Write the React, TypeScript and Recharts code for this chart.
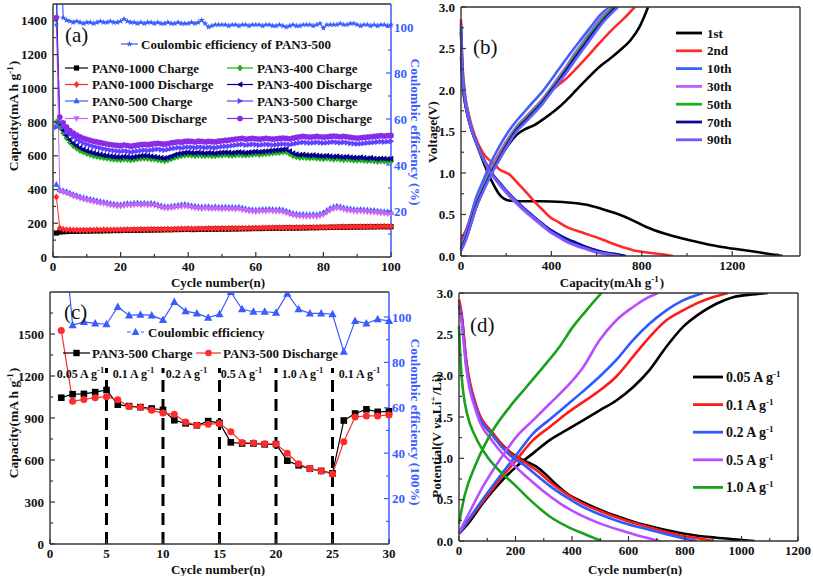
import React from 'react';
import { LineChart, Line, XAxis, YAxis, ReferenceLine } from 'recharts';

const FONT = '"Liberation Serif", "Times New Roman", serif';
const BLUE = '#3a5cff';
const AX = { stroke: '#333', strokeWidth: 1.4 };

// ---------- panel (a): cycling of the different samples ----------
const aCycle = Array.from({ length: 100 }, (_, i) => i + 1);

const a10C = [142, 148, 150, 151, 152, 152, 153, 153, 154, 154,
    154, 155, 155, 155, 156, 156, 156, 157, 157, 157,
    158, 158, 158, 159, 159, 159, 160, 160, 160, 161,
    161, 161, 162, 162, 162, 163, 163, 163, 164, 164,
    163, 163, 164, 164, 164, 165, 165, 165, 166, 166,
    166, 166, 167, 167, 167, 168, 168, 168, 169, 169,
    169, 169, 170, 170, 170, 171, 171, 171, 172, 172,
    172, 172, 173, 173, 173, 174, 174, 174, 175, 175,
    175, 176, 176, 176, 177, 177, 177, 178, 178, 178,
    178, 179, 179, 179, 179, 180, 180, 180, 180, 180];
const a10D = [356, 172, 165, 162, 161, 160, 160, 159, 160, 159,
    160, 160, 161, 160, 161, 161, 162, 161, 162, 162,
    162, 163, 162, 163, 163, 164, 163, 164, 164, 165,
    164, 165, 165, 166, 165, 166, 166, 167, 166, 167,
    167, 168, 167, 168, 168, 169, 168, 169, 169, 170,
    169, 170, 170, 171, 170, 171, 171, 172, 171, 172,
    172, 173, 172, 173, 173, 174, 173, 174, 174, 175,
    174, 175, 175, 176, 175, 176, 176, 177, 176, 177,
    177, 178, 177, 178, 178, 179, 178, 179, 179, 180,
    179, 180, 180, 181, 180, 181, 181, 182, 181, 182];
const a05C = [430, 398, 394, 388, 380, 372, 365, 358, 352, 347,
    343, 338, 334, 330, 326, 322, 318, 315, 312, 310,
    315, 318, 316, 319, 321, 318, 320, 317, 319, 316,
    310, 304, 300, 298, 301, 304, 307, 310, 312, 309,
    305, 301, 299, 297, 299, 298, 296, 298, 296, 295,
    297, 295, 296, 294, 296, 291, 287, 283, 281, 279,
    281, 283, 282, 284, 283, 281, 282, 279, 273, 266,
    259, 255, 253, 252, 251, 251, 252, 251, 255, 263,
    276, 289, 297, 301, 299, 293, 288, 286, 283, 281,
    283, 281, 279, 277, 276, 274, 271, 269, 267, 265];
const a05D = [1415, 390, 385, 378, 370, 362, 355, 348, 342, 337,
    333, 328, 324, 320, 316, 312, 308, 305, 302, 300,
    305, 308, 306, 309, 311, 308, 310, 307, 309, 306,
    300, 294, 290, 288, 291, 294, 297, 299, 301, 298,
    294, 290, 288, 286, 288, 287, 285, 287, 285, 284,
    286, 284, 285, 283, 285, 280, 276, 272, 270, 268,
    270, 272, 271, 273, 272, 270, 271, 268, 262, 255,
    248, 244, 242, 241, 240, 240, 241, 240, 244, 252,
    265, 278, 286, 290, 288, 282, 277, 275, 272, 270,
    272, 270, 268, 266, 265, 263, 260, 258, 256, 254];
const a34C = [800, 770, 735, 705, 680, 660, 645, 632, 622, 614,
    607, 601, 596, 592, 588, 585, 582, 580, 578, 577,
    580, 578, 575, 578, 581, 584, 586, 584, 581, 579,
    576, 573, 571, 575, 582, 590, 596, 600, 603, 605,
    603, 601, 604, 602, 600, 603, 601, 600, 603, 604,
    606, 604, 602, 605, 607, 605, 603, 606, 608, 610,
    608, 610, 612, 614, 616, 618, 620, 622, 624, 612,
    600, 594, 590, 592, 589, 587, 589, 586, 584, 583,
    585, 582, 580, 582, 579, 577, 579, 576, 574, 573,
    575, 572, 570, 572, 569, 567, 569, 568, 566, 567];
const a34D = [1560, 790, 752, 720, 695, 675, 660, 647, 637, 629,
    622, 616, 611, 607, 603, 600, 597, 595, 593, 592,
    595, 593, 590, 593, 596, 599, 601, 599, 596, 594,
    591, 588, 586, 590, 597, 605, 611, 615, 618, 620,
    618, 616, 619, 617, 615, 618, 616, 615, 618, 619,
    621, 619, 617, 620, 622, 620, 618, 621, 623, 625,
    623, 625, 627, 629, 631, 633, 635, 637, 639, 627,
    615, 609, 605, 607, 604, 602, 604, 601, 599, 598,
    600, 597, 595, 597, 594, 592, 594, 591, 589, 588,
    590, 587, 585, 587, 584, 582, 584, 583, 581, 582];
const a35C = [770, 800, 770, 745, 727, 710, 695, 684, 675, 668,
    661, 655, 650, 645, 641, 637, 633, 630, 628, 626,
    629, 626, 622, 625, 628, 631, 633, 631, 634, 637,
    639, 636, 634, 638, 642, 645, 648, 646, 650, 652,
    650, 648, 652, 650, 648, 651, 649, 648, 652, 654,
    656, 658, 661, 664, 666, 668, 664, 666, 668, 666,
    664, 666, 668, 666, 664, 666, 668, 670, 668, 666,
    670, 674, 678, 680, 678, 676, 678, 680, 678, 676,
    678, 680, 682, 680, 678, 680, 678, 674, 672, 670,
    672, 674, 676, 678, 680, 682, 684, 682, 684, 686];
const a35D = [1420, 830, 795, 770, 750, 735, 722, 712, 704, 698,
    692, 686, 682, 678, 674, 670, 667, 664, 662, 660,
    664, 661, 657, 660, 663, 666, 668, 666, 669, 672,
    674, 671, 669, 673, 677, 680, 683, 681, 685, 687,
    685, 683, 687, 685, 683, 686, 684, 683, 687, 689,
    691, 693, 696, 699, 701, 703, 699, 701, 703, 701,
    699, 701, 703, 701, 699, 701, 703, 705, 703, 701,
    705, 709, 713, 715, 713, 711, 713, 715, 713, 711,
    713, 715, 717, 715, 713, 715, 713, 709, 707, 705,
    707, 709, 711, 713, 715, 717, 719, 717, 719, 721];
const aCE = [101, 150, 104, 103, 102.5, 102, 102.5, 102, 101.5, 102,
    102, 101.5, 102, 102.5, 102, 102, 102.5, 102, 102, 102.5,
    103.5, 102.5, 102, 102, 101.5, 102, 101.5, 102, 102, 101.5,
    102, 101.5, 101.5, 102, 101.5, 101.5, 102, 101.5, 101.5, 101.5,
    102, 101.5, 102, 103, 101.5, 100, 100.5, 101, 101, 101,
    101, 100.5, 101, 101, 100.5, 101, 101, 100.5, 101, 101,
    101, 100.5, 101, 101, 100.5, 100.5, 101, 100.5, 100, 100.5,
    101, 100.5, 100.5, 101, 101, 101, 100.5, 101, 101.5, 99.5,
    101, 101, 101, 101, 101.5, 101, 101, 101.5, 101.5, 101,
    100.5, 101, 101, 100.5, 101, 100.5, 101, 101, 100.5, 101];

const aRows = aCycle.map((c, i) => ({
    c, p10c: a10C[i], p10d: a10D[i], p05c: a05C[i], p05d: a05D[i],
    p34c: a34C[i], p34d: a34D[i], p35c: a35C[i], p35d: a35D[i], ce: aCE[i],
}));

const aSpec = [
    { key: 'p10c', name: 'PAN0-1000 Charge', color: '#000000', shape: 'square' },
    { key: 'p10d', name: 'PAN0-1000 Discharge', color: '#ff2a2a', shape: 'diamond' },
    { key: 'p05c', name: 'PAN0-500 Charge', color: '#3060ff', shape: 'up' },
    { key: 'p05d', name: 'PAN0-500 Discharge', color: '#c865f5', shape: 'down' },
    { key: 'p34c', name: 'PAN3-400 Charge', color: '#1fae1f', shape: 'diamond' },
    { key: 'p34d', name: 'PAN3-400 Discharge', color: '#00008b', shape: 'left' },
    { key: 'p35c', name: 'PAN3-500 Charge', color: '#6040ff', shape: 'right' },
    { key: 'p35d', name: 'PAN3-500 Discharge', color: '#8a2be8', shape: 'circle' },
];

// ---------- panel (b): voltage profiles of PAN3-500 ----------
const b1Dis = [[0, 2.4], [8, 2.05], [25, 1.75], [50, 1.5], [80, 1.27], [110, 1.06], [140, 0.88], [165, 0.76], [190, 0.69], [220, 0.665], [260, 0.66], [350, 0.66], [450, 0.65], [550, 0.62], [620, 0.57], [700, 0.5], [760, 0.43], [820, 0.35], [900, 0.27], [980, 0.21], [1060, 0.16], [1130, 0.12], [1200, 0.09], [1280, 0.06], [1350, 0.03], [1400, 0.01], [1422, 0]];
const b1Chg = [[0, 0.1], [20, 0.2], [69, 0.6], [100, 0.8], [128, 0.96], [172, 1.18], [210, 1.34], [246, 1.46], [285, 1.53], [320, 1.57], [360, 1.64], [400, 1.72], [437, 1.8], [475, 1.9], [510, 2.0], [560, 2.14], [613, 2.28], [660, 2.38], [700, 2.47], [750, 2.6], [790, 2.76], [828, 3.0]];
const b2Dis = [[0, 2.85], [5, 2.4], [15, 2.02], [35, 1.7], [60, 1.46], [98, 1.24], [140, 1.12], [172, 1.04], [216, 0.98], [250, 0.88], [285, 0.78], [320, 0.67], [360, 0.56], [393, 0.47], [430, 0.41], [467, 0.35], [540, 0.28], [614, 0.21], [690, 0.13], [761, 0.07], [830, 0.04], [890, 0.02], [938, 0]];
const b2Chg = [[0, 0.2], [20, 0.3], [69, 0.68], [100, 0.88], [128, 1.03], [172, 1.25], [210, 1.42], [246, 1.56], [285, 1.67], [320, 1.77], [360, 1.88], [393, 1.97], [430, 2.06], [467, 2.14], [500, 2.23], [555, 2.39], [614, 2.57], [673, 2.74], [720, 2.86], [769, 3.0]];
const b10Dis = [[0, 2.8], [5, 2.35], [15, 1.98], [35, 1.66], [69, 1.36], [100, 1.17], [128, 1.02], [150, 0.93], [172, 0.86], [210, 0.74], [246, 0.64], [285, 0.55], [320, 0.47], [360, 0.38], [393, 0.31], [430, 0.25], [467, 0.19], [510, 0.14], [555, 0.09], [600, 0.05], [644, 0.03], [680, 0.01], [700, 0]];
const b10Chg = [[0, 0.14], [20, 0.27], [69, 0.72], [100, 0.92], [128, 1.1], [172, 1.33], [210, 1.5], [246, 1.63], [285, 1.75], [320, 1.86], [360, 1.98], [393, 2.1], [430, 2.24], [467, 2.38], [500, 2.5], [540, 2.64], [580, 2.78], [614, 2.9], [660, 3.0]];
const b30Dis = [[0, 2.78], [5, 2.3], [15, 1.95], [35, 1.64], [69, 1.35], [100, 1.16], [128, 1.01], [150, 0.93], [172, 0.85], [210, 0.73], [246, 0.63], [285, 0.53], [320, 0.45], [360, 0.36], [393, 0.29], [430, 0.23], [467, 0.17], [510, 0.12], [555, 0.08], [600, 0.04], [644, 0.02], [690, 0]];
const b30Chg = [[0, 0.12], [20, 0.23], [69, 0.66], [100, 0.85], [128, 1.01], [172, 1.23], [210, 1.41], [246, 1.56], [285, 1.67], [320, 1.77], [360, 1.89], [393, 2.01], [430, 2.15], [467, 2.29], [500, 2.43], [540, 2.58], [580, 2.73], [614, 2.86], [668, 3.0]];
const b50Dis = [[0, 2.75], [5, 2.28], [15, 1.93], [35, 1.63], [69, 1.35], [100, 1.16], [128, 1.02], [150, 0.94], [172, 0.87], [210, 0.75], [246, 0.65], [285, 0.55], [320, 0.47], [360, 0.38], [393, 0.31], [430, 0.25], [467, 0.2], [510, 0.15], [555, 0.1], [600, 0.06], [644, 0.04], [690, 0.02], [720, 0]];
const b50Chg = [[0, 0.1], [20, 0.21], [69, 0.64], [100, 0.83], [128, 0.99], [172, 1.21], [210, 1.39], [246, 1.54], [285, 1.65], [320, 1.75], [360, 1.87], [393, 1.99], [430, 2.12], [467, 2.26], [500, 2.4], [540, 2.55], [580, 2.7], [620, 2.84], [675, 3.0]];
const b70Dis = [[0, 2.7], [5, 2.25], [15, 1.92], [35, 1.63], [69, 1.36], [100, 1.17], [128, 1.03], [150, 0.95], [172, 0.88], [210, 0.76], [246, 0.66], [285, 0.56], [320, 0.48], [360, 0.39], [393, 0.32], [430, 0.26], [467, 0.21], [510, 0.16], [555, 0.11], [600, 0.07], [644, 0.04], [690, 0.02], [730, 0]];
const b70Chg = [[0, 0.08], [20, 0.2], [69, 0.62], [100, 0.81], [128, 0.97], [172, 1.19], [210, 1.37], [246, 1.52], [285, 1.63], [320, 1.73], [360, 1.85], [393, 1.97], [430, 2.1], [467, 2.24], [500, 2.37], [540, 2.52], [580, 2.67], [630, 2.84], [685, 3.0]];
const b90Dis = [[0, 2.72], [5, 2.27], [15, 1.94], [35, 1.64], [69, 1.36], [100, 1.17], [128, 1.02], [150, 0.94], [172, 0.87], [210, 0.75], [246, 0.65], [285, 0.55], [320, 0.47], [360, 0.38], [393, 0.3], [430, 0.24], [467, 0.18], [510, 0.13], [555, 0.09], [600, 0.05], [644, 0.03], [705, 0]];
const b90Chg = [[0, 0.06], [20, 0.18], [69, 0.6], [100, 0.79], [128, 0.95], [172, 1.17], [210, 1.35], [246, 1.5], [285, 1.61], [320, 1.71], [360, 1.83], [393, 1.95], [430, 2.08], [467, 2.21], [500, 2.34], [540, 2.49], [580, 2.64], [630, 2.82], [695, 3.0]];

const bSeries = [
    { name: '1st', color: '#000000', dis: b1Dis, chg: b1Chg },
    { name: '2nd', color: '#ff2a2a', dis: b2Dis, chg: b2Chg },
    { name: '10th', color: '#3a62ff', dis: b10Dis, chg: b10Chg },
    { name: '30th', color: '#c25cff', dis: b30Dis, chg: b30Chg },
    { name: '50th', color: '#19b019', dis: b50Dis, chg: b50Chg },
    { name: '70th', color: '#0a0a99', dis: b70Dis, chg: b70Chg },
    { name: '90th', color: '#6a5cff', dis: b90Dis, chg: b90Chg },
];

// ---------- panel (c): rate performance ----------
const cCycle = Array.from({ length: 30 }, (_, i) => i + 1);
const cCharge = [1045, 1070, 1072, 1085, 1100, 995, 985, 978, 968, 958, 884, 862, 848, 878, 865, 726, 718, 718, 712, 713, 595, 562, 538, 522, 505, 882, 932, 962, 944, 948];
const cDischarge = [1525, 1020, 1032, 1045, 1052, 1030, 982, 975, 955, 935, 926, 872, 848, 856, 860, 802, 725, 722, 716, 714, 648, 573, 537, 521, 500, 730, 907, 915, 915, 922];
const cCE = [150, 96.4, 97.8, 97.2, 96.8, 104.4, 100.7, 101, 100.7, 98.7, 106.6, 102.6, 101.6, 99.7, 101.2, 111, 103.4, 102.3, 102.3, 101.9, 110.3, 103.4, 101.6, 101.6, 101.2, 84.7, 98.3, 97.2, 99, 98.3];
const cRows = cCycle.map((c, i) => ({ c, chg: cCharge[i], dis: cDischarge[i], ce: cCE[i] }));
const cSwitch = [5, 10, 15, 20, 25];
const cRates = [['0.05', 81], ['0.1', 134], ['0.2', 187], ['0.5', 242], ['1.0', 303], ['0.1', 360]];

// ---------- panel (d): profiles at different rates ----------
const d005Dis = [[0, 2.85], [8, 2.75], [26, 2.15], [61, 1.62], [120, 1.3], [179, 1.08], [238, 0.96], [274, 0.9], [309, 0.8], [345, 0.68], [380, 0.58], [439, 0.47], [498, 0.38], [560, 0.3], [620, 0.23], [687, 0.17], [750, 0.12], [793, 0.09], [850, 0.06], [911, 0.04], [970, 0.02], [1047, 0]];
const d005Chg = [[0, 0.09], [30, 0.2], [85, 0.46], [144, 0.7], [203, 0.9], [262, 1.06], [321, 1.22], [380, 1.34], [439, 1.46], [498, 1.58], [557, 1.7], [616, 1.86], [675, 2.07], [734, 2.35], [793, 2.59], [852, 2.75], [911, 2.87], [970, 2.95], [1030, 2.98], [1094, 3.0]];
const d01Dis = [[0, 2.92], [8, 2.78], [26, 2.18], [61, 1.64], [120, 1.3], [179, 1.07], [238, 0.94], [280, 0.84], [320, 0.72], [380, 0.57], [440, 0.45], [500, 0.36], [580, 0.26], [680, 0.16], [780, 0.07], [850, 0.03], [900, 0]];
const d01Chg = [[0, 0.09], [50, 0.32], [144, 0.74], [203, 0.98], [262, 1.22], [321, 1.38], [380, 1.54], [439, 1.68], [498, 1.82], [557, 1.99], [616, 2.23], [675, 2.47], [734, 2.67], [793, 2.79], [852, 2.89], [910, 2.96], [952, 3.0]];
const d02Dis = [[0, 2.85], [8, 2.72], [26, 2.12], [61, 1.6], [120, 1.27], [179, 1.04], [238, 0.9], [280, 0.78], [320, 0.67], [380, 0.53], [440, 0.41], [500, 0.32], [580, 0.22], [680, 0.13], [760, 0.06], [810, 0.02], [840, 0]];
const d02Chg = [[0, 0.09], [50, 0.34], [144, 0.78], [203, 1.04], [262, 1.3], [321, 1.47], [380, 1.64], [439, 1.81], [498, 1.99], [557, 2.19], [616, 2.43], [675, 2.63], [734, 2.79], [793, 2.91], [864, 3.0]];
const d05Dis = [[0, 2.8], [8, 2.68], [26, 2.08], [61, 1.56], [120, 1.2], [179, 0.97], [238, 0.78], [300, 0.6], [360, 0.45], [420, 0.33], [500, 0.21], [580, 0.12], [650, 0.05], [710, 0]];
const d05Chg = [[0, 0.1], [30, 0.3], [85, 0.66], [144, 0.98], [203, 1.26], [262, 1.46], [321, 1.66], [380, 1.86], [439, 2.1], [498, 2.43], [557, 2.67], [616, 2.83], [660, 2.93], [704, 3.0]];
const d10Dis = [[0, 2.6], [5, 2.2], [15, 1.8], [30, 1.52], [60, 1.25], [100, 1.02], [140, 0.86], [200, 0.67], [260, 0.47], [320, 0.3], [380, 0.18], [440, 0.09], [504, 0]];
const d10Chg = [[0, 0.21], [20, 0.55], [61, 0.94], [120, 1.34], [179, 1.62], [238, 1.86], [297, 2.1], [356, 2.35], [403, 2.59], [451, 2.79], [504, 3.0]];

const dSeries = [
    { name: '0.05', color: '#000000', dis: d005Dis, chg: d005Chg },
    { name: '0.1', color: '#ff1a1a', dis: d01Dis, chg: d01Chg },
    { name: '0.2', color: '#2e5bff', dis: d02Dis, chg: d02Chg },
    { name: '0.5', color: '#b94dff', dis: d05Dis, chg: d05Chg },
    { name: '1.0', color: '#1aa01a', dis: d10Dis, chg: d10Chg },
];

const pts = (arr: number[][]) => arr.map(([x, y]) => ({ x, y }));

// ---------- markers and ticks ----------
function Mark({ cx, cy, shape, color, s }: any) {
    if (cx == null || cy == null || isNaN(cx) || isNaN(cy)) return null;
    const k = s;
    switch (shape) {
        case 'square':
            return <rect x={cx - k} y={cy - k} width={2 * k} height={2 * k} fill={color} />;
        case 'circle':
            return <circle cx={cx} cy={cy} r={k * 1.1} fill={color} />;
        case 'diamond':
            return <polygon points={`${cx},${cy - k * 1.35} ${cx + k * 1.1},${cy} ${cx},${cy + k * 1.35} ${cx - k * 1.1},${cy}`} fill={color} />;
        case 'up':
            return <polygon points={`${cx},${cy - k * 1.3} ${cx + k * 1.2},${cy + k * 0.9} ${cx - k * 1.2},${cy + k * 0.9}`} fill={color} />;
        case 'down':
            return <polygon points={`${cx},${cy + k * 1.3} ${cx + k * 1.2},${cy - k * 0.9} ${cx - k * 1.2},${cy - k * 0.9}`} fill={color} />;
        case 'left':
            return <polygon points={`${cx - k * 1.3},${cy} ${cx + k * 0.9},${cy - k * 1.2} ${cx + k * 0.9},${cy + k * 1.2}`} fill={color} />;
        case 'right':
            return <polygon points={`${cx + k * 1.3},${cy} ${cx - k * 0.9},${cy - k * 1.2} ${cx - k * 0.9},${cy + k * 1.2}`} fill={color} />;
        case 'star': {
            const p: string[] = [];
            for (let i = 0; i < 10; i++) {
                const a = -Math.PI / 2 + (i * Math.PI) / 5;
                const r = i % 2 === 0 ? k * 1.5 : k * 0.6;
                p.push(`${cx + r * Math.cos(a)},${cy + r * Math.sin(a)}`);
            }
            return <polygon points={p.join(' ')} fill={color} />;
        }
        default:
            return null;
    }
}

const dotOf = (shape: string, color: string, s: number) => (p: any) =>
    <Mark key={`${shape}-${color}-${p.index}`} cx={p.cx} cy={p.cy} shape={shape} color={color} s={s} />;

function TickB({ x, y, payload, majors, fmt }: any) {
    const v = payload.value;
    const major = majors.includes(v);
    return (
        <g>
            <line x1={x} x2={x} y1={y} y2={y - (major ? 5 : 3)} stroke="#333" strokeWidth={1.2} />
            {major && (
                <text x={x} y={y + 14} textAnchor="middle" fontFamily={FONT} fontWeight="bold" fontSize={13} fill="#111">
                    {fmt ? fmt(v) : v}
                </text>
            )}
        </g>
    );
}

function TickL({ x, y, payload, majors, fmt }: any) {
    const v = payload.value;
    const major = majors.includes(v);
    return (
        <g>
            <line x1={x} x2={x + (major ? 5 : 3)} y1={y} y2={y} stroke="#333" strokeWidth={1.2} />
            {major && (
                <text x={x - 6} y={y} dy="0.35em" textAnchor="end" fontFamily={FONT} fontWeight="bold" fontSize={13} fill="#111">
                    {fmt ? fmt(v) : v}
                </text>
            )}
        </g>
    );
}

function TickR({ x, y, payload, majors }: any) {
    const v = payload.value;
    const major = majors.includes(v);
    return (
        <g>
            <line x1={x} x2={x - (major ? 5 : 3)} y1={y} y2={y} stroke={BLUE} strokeWidth={1.2} />
            {major && (
                <text x={x + 3} y={y} dy="0.35em" textAnchor="start" fontFamily={FONT} fontWeight="bold" fontSize={13} fill={BLUE}>
                    {v}
                </text>
            )}
        </g>
    );
}

const f1 = (v: number) => v.toFixed(1);
const vTicks = [0, 0.25, 0.5, 0.75, 1, 1.25, 1.5, 1.75, 2, 2.25, 2.5, 2.75, 3];
const vMajors = [0, 0.5, 1, 1.5, 2, 2.5, 3];

function profileLines(series: any[]) {
    return series.map((s: any) => [
        <Line key={`${s.name}-d`} data={pts(s.dis)} dataKey="y" type="monotone" stroke={s.color} strokeWidth={2.6}
            dot={false} activeDot={false} isAnimationActive={false} />,
        <Line key={`${s.name}-c`} data={pts(s.chg)} dataKey="y" type="monotone" stroke={s.color} strokeWidth={2.6}
            dot={false} activeDot={false} isAnimationActive={false} />,
    ]);
}

// ---------- panels ----------
function PanelA() {
    return (
        <LineChart width={430} height={292} data={aRows} margin={{ top: 3, right: 0, bottom: 0, left: 0 }}>
            <XAxis dataKey="c" type="number" domain={[0, 100]} ticks={[0, 10, 20, 30, 40, 50, 60, 70, 80, 90, 100]} interval={0}
                height={35} tickSize={0} tickMargin={0} tickLine={false} axisLine={AX}
                tick={<TickB majors={[0, 20, 40, 60, 80, 100]} />} />
            <XAxis xAxisId="top" orientation="top" type="number" domain={[0, 100]} height={1} tick={false} tickLine={false} axisLine={AX} />
            <YAxis yAxisId="left" type="number" domain={[0, 1500]} allowDataOverflow width={53}
                ticks={[0, 100, 200, 300, 400, 500, 600, 700, 800, 900, 1000, 1100, 1200, 1300, 1400]} interval={0}
                tickSize={0} tickMargin={0} tickLine={false} axisLine={AX}
                tick={<TickL majors={[0, 200, 400, 600, 800, 1000, 1200, 1400]} />} />
            <YAxis yAxisId="right" orientation="right" type="number" domain={[0, 110]} allowDataOverflow width={39}
                ticks={[10, 20, 30, 40, 50, 60, 70, 80, 90, 100]} interval={0}
                tickSize={0} tickMargin={0} tickLine={false} axisLine={{ stroke: BLUE, strokeWidth: 1.5 }}
                tick={<TickR majors={[20, 40, 60, 80, 100]} />} />
            {aSpec.map((s) => (
                <Line key={s.key} yAxisId="left" dataKey={s.key} type="linear" stroke={s.color} strokeWidth={1}
                    dot={dotOf(s.shape, s.color, 2.6)} activeDot={false} isAnimationActive={false} />
            ))}
            <Line yAxisId="right" dataKey="ce" type="linear" stroke={BLUE} strokeWidth={1.2}
                dot={dotOf('star', BLUE, 2.2)} activeDot={false} isAnimationActive={false} />
        </LineChart>
    );
}

function PanelB() {
    return (
        <LineChart width={413} height={292} margin={{ top: 6, right: 12, bottom: 0, left: 0 }}>
            <XAxis dataKey="x" type="number" domain={[0, 1500]} ticks={[0, 200, 400, 600, 800, 1000, 1200, 1400]} interval={0}
                height={36} tickSize={0} tickMargin={0} tickLine={false} axisLine={AX}
                tick={<TickB majors={[0, 400, 800, 1200]} />} />
            <XAxis xAxisId="top" orientation="top" type="number" domain={[0, 1500]} height={1} tick={false} tickLine={false} axisLine={AX} />
            <YAxis type="number" domain={[0, 3]} allowDataOverflow width={61} ticks={vTicks} interval={0}
                tickSize={0} tickMargin={0} tickLine={false} axisLine={AX}
                tick={<TickL majors={vMajors} fmt={f1} />} />
            <YAxis yAxisId="r" orientation="right" type="number" domain={[0, 3]} width={1} tick={false} tickLine={false} axisLine={AX} />
            {profileLines(bSeries)}
        </LineChart>
    );
}

function PanelC() {
    return (
        <LineChart width={430} height={296} data={cRows} margin={{ top: 11, right: 0, bottom: 0, left: 0 }}>
            <XAxis dataKey="c" type="number" domain={[0, 30]} ticks={[0, 5, 10, 15, 20, 25, 30]} interval={0}
                height={32} tickSize={0} tickMargin={0} tickLine={false} axisLine={AX}
                tick={<TickB majors={[0, 5, 10, 15, 20, 25, 30]} />} />
            <XAxis xAxisId="top" orientation="top" type="number" domain={[0, 30]} height={1} tick={false} tickLine={false} axisLine={AX} />
            <YAxis yAxisId="left" type="number" domain={[0, 1800]} allowDataOverflow width={50}
                ticks={[0, 150, 300, 450, 600, 750, 900, 1050, 1200, 1350, 1500, 1650]} interval={0}
                tickSize={0} tickMargin={0} tickLine={false} axisLine={AX}
                tick={<TickL majors={[0, 300, 600, 900, 1200, 1500]} />} />
            <YAxis yAxisId="right" orientation="right" type="number" domain={[0, 111]} allowDataOverflow width={41}
                ticks={[10, 20, 30, 40, 50, 60, 70, 80, 90, 100]} interval={0}
                tickSize={0} tickMargin={0} tickLine={false} axisLine={{ stroke: BLUE, strokeWidth: 1.5 }}
                tick={<TickR majors={[20, 40, 60, 80, 100]} />} />
            {cSwitch.map((x) => (
                <ReferenceLine key={x} yAxisId="left" segment={[{ x, y: 0 }, { x, y: 1258 }]}
                    stroke="#000" strokeWidth={3} strokeDasharray="12 7" />
            ))}
            <Line yAxisId="left" dataKey="chg" type="linear" stroke="#000" strokeWidth={1.2}
                dot={dotOf('square', '#000', 3.3)} activeDot={false} isAnimationActive={false} />
            <Line yAxisId="left" dataKey="dis" type="linear" stroke="#ff2a2a" strokeWidth={1.2}
                dot={dotOf('circle', '#ff2a2a', 3.2)} activeDot={false} isAnimationActive={false} />
            <Line yAxisId="right" dataKey="ce" type="linear" stroke={BLUE} strokeWidth={1.2}
                dot={dotOf('up', BLUE, 3.4)} activeDot={false} isAnimationActive={false} />
        </LineChart>
    );
}

function PanelD() {
    return (
        <LineChart width={413} height={296} margin={{ top: 12, right: 14, bottom: 0, left: 0 }}>
            <XAxis dataKey="x" type="number" domain={[0, 1200]} ticks={[0, 100, 200, 300, 400, 500, 600, 700, 800, 900, 1000, 1100, 1200]} interval={0}
                height={35} tickSize={0} tickMargin={0} tickLine={false} axisLine={AX}
                tick={<TickB majors={[0, 200, 400, 600, 800, 1000, 1200]} />} />
            <XAxis xAxisId="top" orientation="top" type="number" domain={[0, 1200]} height={1} tick={false} tickLine={false} axisLine={AX} />
            <YAxis type="number" domain={[0, 3]} allowDataOverflow width={59} ticks={vTicks} interval={0}
                tickSize={0} tickMargin={0} tickLine={false} axisLine={AX}
                tick={<TickL majors={vMajors} fmt={f1} />} />
            <YAxis yAxisId="r" orientation="right" type="number" domain={[0, 3]} width={1} tick={false} tickLine={false} axisLine={AX} />
            {profileLines(dSeries)}
        </LineChart>
    );
}

// ---------- titles, legends, panel letters ----------
const Sup = ({ t, size = 9 }: any) => (
    <>
        <tspan dy={-5} fontSize={size}>{t}</tspan>
        <tspan dy={5}>{'\u200a'}</tspan>
    </>
);

function Overlay() {
    const bold = { fontFamily: FONT, fontWeight: 'bold' as const, fill: '#111' };
    const aRowsY = [68, 84.5, 101, 118.5];
    return (
        <svg width={813} height={576} style={{ position: 'absolute', left: 0, top: 0, pointerEvents: 'none' }}>
            {/* (a) */}
            <text x={65} y={42} fontFamily={FONT} fontSize={21} fill="#111">(a)</text>
            <line x1={121} x2={138} y1={44} y2={44} stroke={BLUE} strokeWidth={1.2} />
            <Mark cx={129.5} cy={44} shape="star" color={BLUE} s={2.2} />
            <text x={141} y={44} dy="0.35em" fontSize={13} {...bold}>Coulombic efficiency of PAN3-500</text>
            {aSpec.map((s, i) => {
                const col = i < 4 ? 0 : 1;
                const y = aRowsY[i % 4];
                const x1 = col ? 227 : 65;
                const x2 = col ? 253 : 88;
                return (
                    <g key={s.key}>
                        <line x1={x1} x2={x2} y1={y} y2={y} stroke={s.color} strokeWidth={1.2} />
                        <Mark cx={(x1 + x2) / 2} cy={y} shape={s.shape} color={s.color} s={2.6} />
                        <text x={x2 + 4} y={y} dy="0.35em" fontSize={13} {...bold}>{s.name}</text>
                    </g>
                );
            })}
            <text transform="rotate(-90 13 116)" x={13} y={116} textAnchor="middle" dy="0.35em" fontSize={13.5} {...bold}>
                Capacity(mA h g<Sup t="-1" />)
            </text>
            <text transform="rotate(90 416 132)" x={416} y={132} textAnchor="middle" dy="0.35em" fontSize={13.5} {...bold} fill={BLUE}>
                Coulombic efficiency (%)
            </text>
            <text x={218} y={287} textAnchor="middle" fontSize={13} {...bold}>Cycle number(n)</text>

            {/* (b) */}
            <text x={473} y={54} fontFamily={FONT} fontSize={21} fill="#111">(b)</text>
            {bSeries.map((s, i) => {
                const y = 33 + i * 17.8;
                return (
                    <g key={s.name}>
                        <line x1={676} x2={702} y1={y} y2={y} stroke={s.color} strokeWidth={2.8} />
                        <text x={707} y={y} dy="0.35em" fontSize={13} {...bold}>{s.name}</text>
                    </g>
                );
            })}
            <text transform="rotate(-90 432 132)" x={432} y={132} textAnchor="middle" dy="0.35em" fontSize={13.5} {...bold}>Voltage(V)</text>
            <text x={612} y={287} textAnchor="middle" fontSize={13} {...bold}>
                Capacity(mAh g<Sup t="-1" />)
            </text>

            {/* (c) */}
            <text x={64} y={319} fontFamily={FONT} fontSize={21} fill="#111">(c)</text>
            <line x1={127} x2={144} y1={332} y2={332} stroke={BLUE} strokeWidth={1.2} strokeDasharray="4 3" />
            <Mark cx={135.5} cy={332} shape="up" color={BLUE} s={3.2} />
            <text x={148} y={332} dy="0.35em" fontSize={13} {...bold}>Coulombic efficiency</text>
            <line x1={63} x2={90} y1={353} y2={353} stroke="#000" strokeWidth={1.2} />
            <Mark cx={76.5} cy={353} shape="square" color="#000" s={3.2} />
            <text x={92} y={353} dy="0.35em" fontSize={13} {...bold}>PAN3-500 Charge</text>
            <line x1={196} x2={221} y1={353} y2={353} stroke="#ff2a2a" strokeWidth={1.2} />
            <Mark cx={208.5} cy={353} shape="circle" color="#ff2a2a" s={3} />
            <text x={223} y={353} dy="0.35em" fontSize={13} {...bold}>PAN3-500 Discharge</text>
            {cRates.map(([r, x]: any, i) => (
                <text key={i} x={x} y={378} textAnchor="middle" fontSize={12} {...bold}>
                    {r} A g<Sup t="-1" size={8.5} />
                </text>
            ))}
            <text transform="rotate(-90 13 423)" x={13} y={423} textAnchor="middle" dy="0.35em" fontSize={13.5} {...bold}>
                Capacity(mA h g<Sup t="-1" />)
            </text>
            <text transform="rotate(90 416 422)" x={416} y={422} textAnchor="middle" dy="0.35em" fontSize={13.5} {...bold} fill={BLUE}>
                Coulombic efficiency (100%)
            </text>
            <text x={218} y={574} textAnchor="middle" fontSize={13} {...bold}>Cycle number(n)</text>

            {/* (d) */}
            <text x={470} y={332} fontFamily={FONT} fontSize={21} fill="#111">(d)</text>
            {dSeries.map((s, i) => {
                const y = 377 + i * 27.6;
                return (
                    <g key={s.name}>
                        <line x1={693} x2={723} y1={y} y2={y} stroke={s.color} strokeWidth={2.8} />
                        <text x={726} y={y} dy="0.35em" fontSize={14} {...bold}>
                            {s.name} A g<Sup t="-1" />
                        </text>
                    </g>
                );
            })}
            <text transform="rotate(-90 436 436)" x={436} y={436} textAnchor="middle" dy="0.35em" fontSize={13.5} {...bold}>
                Potential(V <tspan fontStyle="italic">vs</tspan> Li<Sup t="+" />/Li)
            </text>
            <text x={635} y={574} textAnchor="middle" fontSize={13} {...bold}>Cycle number(n)</text>
        </svg>
    );
}

export default function App() {
    return (
        <div style={{ position: 'absolute', left: 0, top: 0, width: 813, height: 576, background: '#fff', overflow: 'hidden' }}>
            <div style={{ position: 'absolute', left: 0, top: 0 }}><PanelA /></div>
            <div style={{ position: 'absolute', left: 400, top: 0 }}><PanelB /></div>
            <div style={{ position: 'absolute', left: 0, top: 280 }}><PanelC /></div>
            <div style={{ position: 'absolute', left: 400, top: 280 }}><PanelD /></div>
            <Overlay />
        </div>
    );
}
